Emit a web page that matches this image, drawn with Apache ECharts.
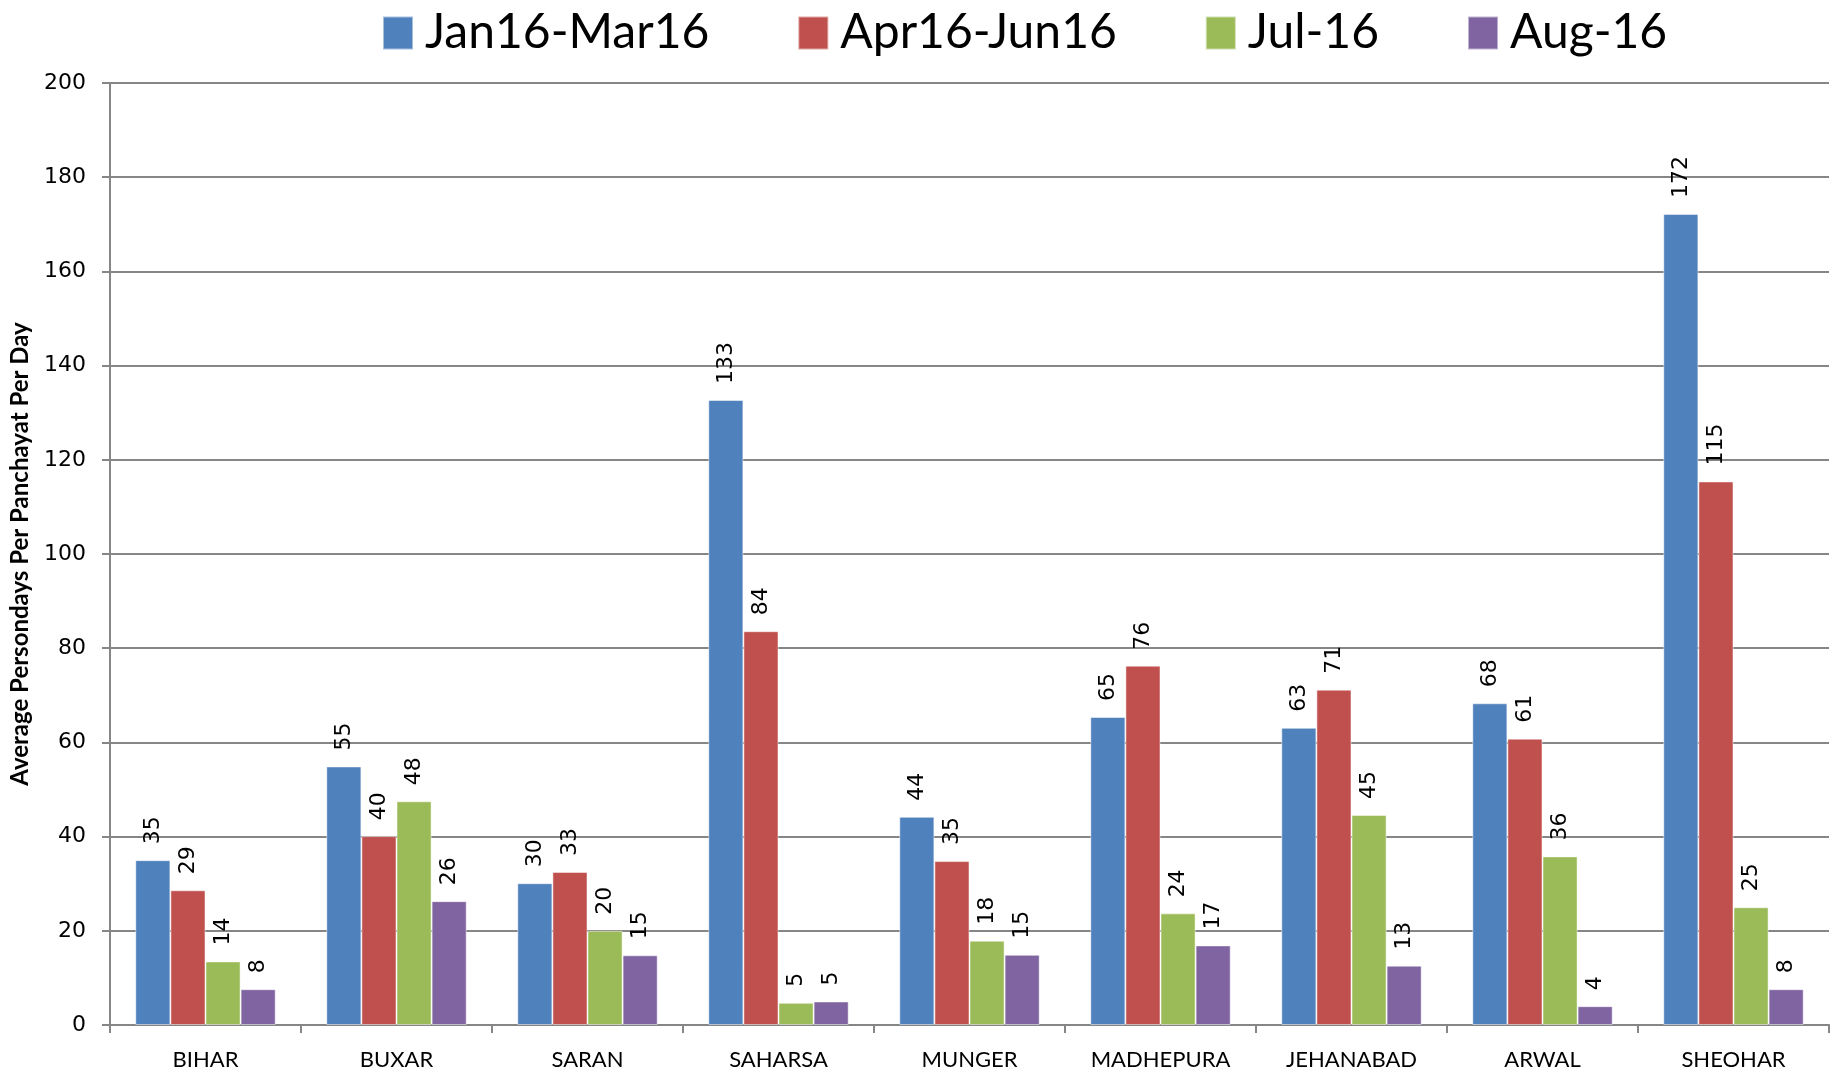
<!DOCTYPE html>
<html><head><meta charset="utf-8">
<script src="https://cdn.jsdelivr.net/npm/echarts@6/dist/echarts.min.js"></script>
<style>html,body{margin:0;padding:0;background:#fff}#c{width:1834px;height:1072px}</style>
</head><body><div id="c"></div>
<script>
const categories = ["BIHAR","BUXAR","SARAN","SAHARSA","MUNGER","MADHEPURA","JEHANABAD","ARWAL","SHEOHAR"];
const seriesNames = ["Jan16-Mar16","Apr16-Jun16","Jul-16","Aug-16"];
const janMar = [35.0, 54.9, 30.1, 132.7, 44.2, 65.4, 63.1, 68.3, 172.2];
const aprJun = [28.6, 40.1, 32.5, 83.6, 34.8, 76.3, 71.2, 60.8, 115.4];
const jul16  = [13.5, 47.5, 20.0, 4.7, 17.9, 23.7, 44.6, 35.8, 25.0];
const aug16  = [7.6, 26.3, 14.8, 5.0, 14.9, 16.9, 12.6, 4.0, 7.6];
const yTicks = [0,20,40,60,80,100,120,140,160,180,200];
const colors = ["#4F81BD","#C0504D","#9BBB59","#8064A2"];
const values = [janMar, aprJun, jul16, aug16];

const chart = echarts.init(document.getElementById('c'));
chart.setOption({
  animation:false,
  color: colors,
  legend:{
    top:4, left:377, itemWidth:30, itemHeight:33, itemGap:88, icon:'rect',
    textStyle:{fontFamily:'Lato', fontSize:48, color:'#000', padding:[0,0,0,7]},
    data: seriesNames
  },
  grid:{left:109, right:5, top:83, bottom:47},
  xAxis:{
    type:'category', data:categories,
    axisLine:{lineStyle:{color:'#868686', width:2}},
    axisTick:{show:true, length:8, lineStyle:{color:'#868686', width:2}},
    axisLabel:{fontFamily:'Lato', fontSize:22, color:'#000', margin:24}
  },
  yAxis:{
    type:'value', min:0, max:200, interval:20,
    name:'Average Persondays Per Panchayat Per Day',
    nameLocation:'middle', nameGap:78, nameRotate:90,
    nameTextStyle:{fontFamily:'Lato', fontWeight:'bold', fontSize:24, color:'#000'},
    axisLine:{show:true, lineStyle:{color:'#868686', width:2}},
    axisTick:{show:true, length:8, lineStyle:{color:'#868686', width:2}},
    axisLabel:{fontFamily:'DejaVu Sans', fontSize:22, color:'#000', margin:24,
      formatter: v => yTicks.includes(v) ? String(v) : ''},
    splitLine:{lineStyle:{color:'#868686', width:2}}
  },
  series: seriesNames.map((n,i)=>({
    name:n, type:'bar', data:values[i], barGap:'0%', barCategoryGap:'26.5%',
    itemStyle:{color:colors[i], borderColor:'rgba(255,255,255,0.5)', borderWidth:1},
    label:{show:true, position:'top', rotate:90, align:'left', verticalAlign:'middle', distance:16,
      fontFamily:'DejaVu Sans', fontSize:22, color:'#000',
      formatter: p => String(Math.round(p.value))}
  }))
});
</script></body></html>
